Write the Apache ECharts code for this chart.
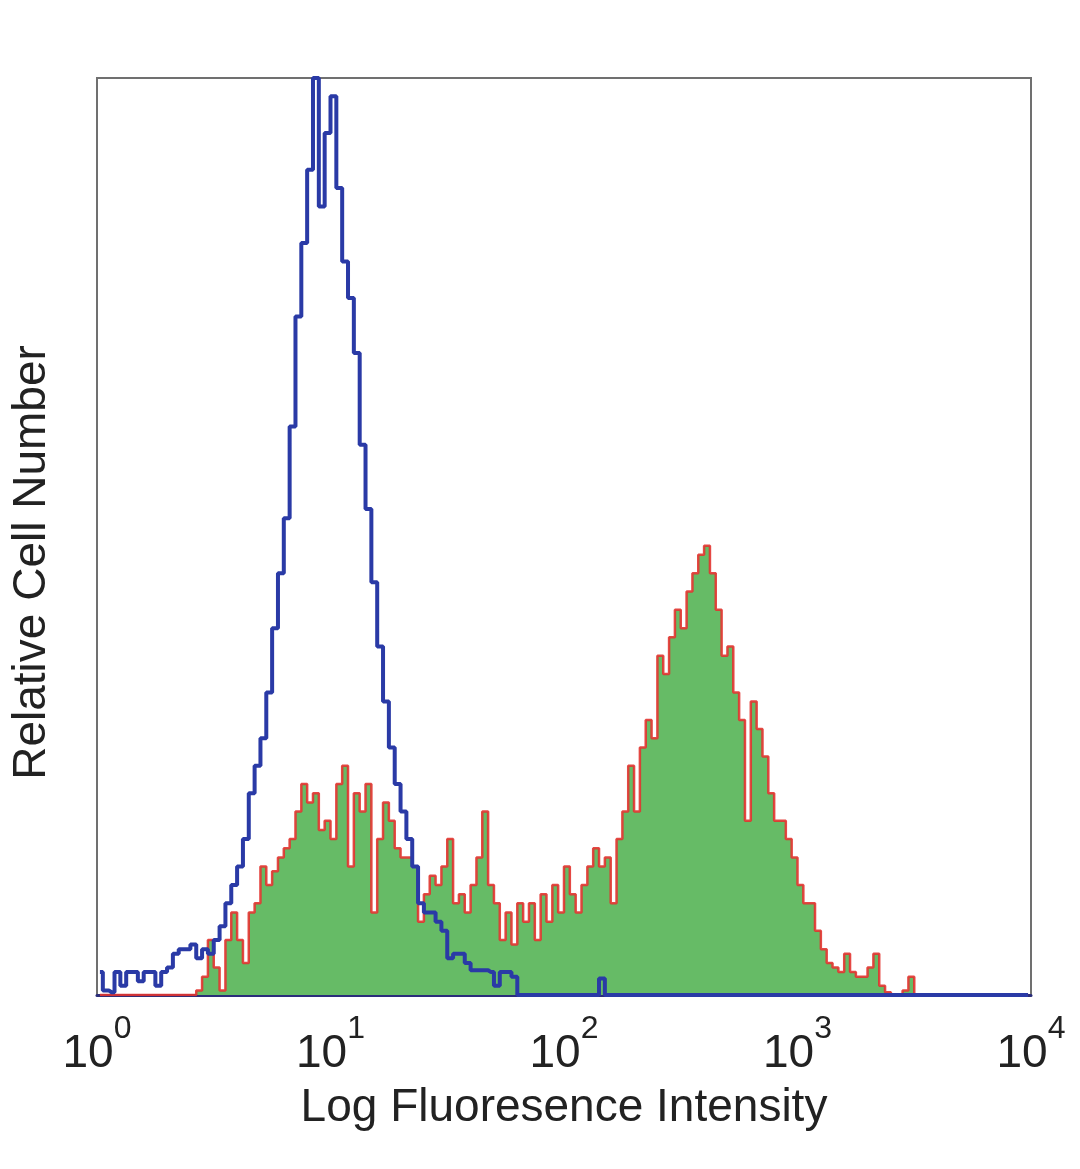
<!DOCTYPE html>
<html>
<head>
<meta charset="utf-8">
<script src="https://cdn.jsdelivr.net/npm/echarts@6/dist/echarts.min.js"></script>
<style>
  html, body { margin: 0; padding: 0; background: #ffffff; }
  #chart { width: 1080px; height: 1169px; }
</style>
</head>
<body>
<div id="chart"></div>
<script>
// Histogram bins on a log10 scale (decades), 0.025 decade wide, starting at 10^0
var binStart = 0;
var binWidth = 0.025;

// x-axis tick exponents (10^n)
var tickExponents = [0, 1, 2, 3, 4];

// Control (blue outline) — relative cell number per bin
var controlCounts = [
  2.5, 0.5, 0.3, 2.5, 1, 2.5, 2.5, 1.5, 2.5, 2.5,
  1, 2.5, 3, 4.5, 5, 5, 5.5, 4, 5, 4.5,
  6, 7.5, 10, 12, 14, 17, 22, 25, 28, 33,
  40, 46, 52, 62, 74, 82, 90, 100, 86, 94,
  98, 88, 80, 76, 70, 60, 53, 45, 38, 32,
  27, 23, 20, 17, 14, 10, 9, 9, 8, 7,
  4, 4.5, 4.5, 3.5, 2.7, 2.7, 2.7, 2.5, 1, 2.5,
  2.5, 2, 0, 0, 0, 0, 0, 0, 0, 0,
  0, 0, 0, 0, 0, 0, 1.8, 0, 0, 0,
  0, 0, 0, 0, 0, 0, 0, 0, 0, 0,
  0, 0, 0, 0, 0, 0, 0, 0, 0, 0,
  0, 0, 0, 0, 0, 0, 0, 0, 0, 0,
  0, 0, 0, 0, 0, 0, 0, 0, 0, 0,
  0, 0, 0, 0, 0, 0, 0, 0, 0, 0,
  0, 0, 0, 0, 0, 0, 0, 0, 0, 0,
  0, 0, 0, 0, 0, 0, 0, 0, 0, 0
];

// Stained sample (green fill, red outline) — relative cell number per bin
var stainedCounts = [
  0, 0, 0, 0, 0, 0, 0, 0, 0, 0,
  0, 0, 0, 0, 0, 0, 0, 0.5, 2, 6,
  3, 0.5, 6, 9, 6, 3.5, 9, 10, 14, 12,
  13.5, 15, 16, 17, 20, 23, 21, 22, 18, 19,
  17, 23, 25, 14, 22, 20, 23, 9, 17, 21,
  19, 16, 15, 15, 14, 8, 11, 13, 12, 14,
  17, 10, 11, 9, 12, 15, 20, 12, 10, 6,
  9, 5.5, 10, 8, 10, 6, 11, 8, 12, 9,
  14, 11, 9, 12, 14, 16, 14, 15, 10, 17,
  20, 25, 20, 27, 30, 28, 37, 35, 39, 42,
  40, 44, 46, 48, 49, 46, 42, 37, 38, 33,
  30, 19, 32, 29, 26, 22, 19, 19, 17, 15,
  12, 10, 10, 7, 5, 3.5, 3, 2.5, 4.5, 2.5,
  2, 2, 3, 4.5, 1, 0.3, 0, 0, 0.5, 2,
  0, 0, 0, 0, 0, 0, 0, 0, 0, 0,
  0, 0, 0, 0, 0, 0, 0, 0, 0, 0
];

function toPairs(counts) {
  return counts.map(function (v, i) {
    return [binStart + i * binWidth + binWidth / 2, v];
  });
}

var FONT = '"Liberation Sans", "DejaVu Sans", sans-serif';
var chart = echarts.init(document.getElementById('chart'), null, { renderer: 'canvas' });

chart.setOption({
  animation: false,
  backgroundColor: '#ffffff',
  grid: {
    left: 97, right: 49, top: 78, bottom: 174,
    show: true, borderColor: '#707070', borderWidth: 2, backgroundColor: 'transparent'
  },
  xAxis: {
    type: 'value',
    min: tickExponents[0],
    max: tickExponents[tickExponents.length - 1],
    interval: 1,
    name: 'Log Fluoresence Intensity',
    nameLocation: 'middle',
    nameGap: 90,
    nameTextStyle: { fontFamily: FONT, fontSize: 46, color: '#222222' },
    axisLine: { show: true, lineStyle: { color: '#2a2d7a', width: 3 } },
    axisTick: { show: false },
    splitLine: { show: false },
    axisLabel: {
      margin: 18,
      formatter: function (v) { return '{b|10}{s|' + v + '}'; },
      rich: {
        b: { fontFamily: FONT, fontSize: 46, color: '#222222', lineHeight: 64, verticalAlign: 'bottom' },
        s: { fontFamily: FONT, fontSize: 32, color: '#222222', lineHeight: 64, verticalAlign: 'top' }
      }
    }
  },
  yAxis: {
    type: 'value',
    min: 0,
    max: 100,
    name: 'Relative Cell Number',
    nameLocation: 'middle',
    nameGap: 42,
    nameTextStyle: { fontFamily: FONT, fontSize: 46, color: '#222222', padding: [0, 52, 0, 0] },
    axisLine: { show: false },
    axisTick: { show: false },
    axisLabel: { show: false },
    splitLine: { show: false }
  },
  series: [
    {
      name: 'Stained',
      type: 'line',
      step: 'middle',
      symbol: 'none',
      data: toPairs(stainedCounts),
      lineStyle: { color: 'rgba(226,52,48,0.9)', width: 2.5 },
      areaStyle: { color: '#66bb66', opacity: 1 },
      z: 2
    },
    {
      name: 'Control',
      type: 'line',
      step: 'middle',
      symbol: 'none',
      data: toPairs(controlCounts),
      lineStyle: { color: '#2a3aa6', width: 4 },
      z: 3
    }
  ]
});
</script>
</body>
</html>
